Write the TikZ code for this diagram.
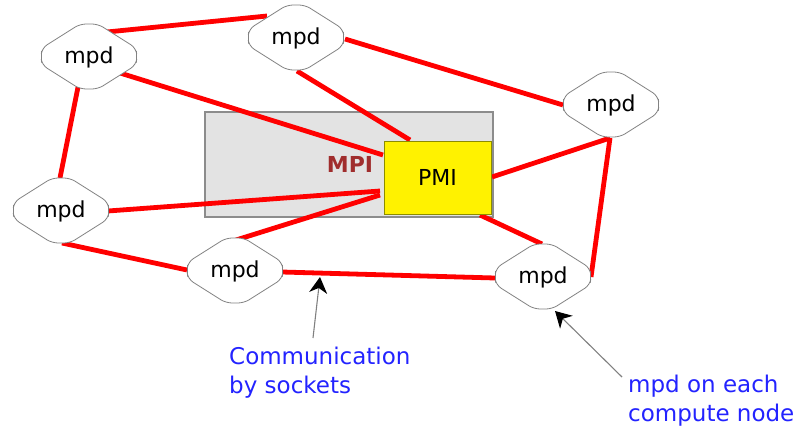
\documentclass[tikz,border=0pt]{standalone}
\usepackage{fontspec}
\setmainfont{DejaVu Sans}
\usetikzlibrary{arrows.meta}
\definecolor{linkred}{RGB}{255,0,0}
\definecolor{boxgray}{RGB}{227,227,227}
\definecolor{boxedge}{RGB}{140,140,140}
\definecolor{pmiedge}{RGB}{140,140,0}
\definecolor{mpired}{RGB}{160,45,45}
\definecolor{noteblue}{RGB}{35,35,255}
\definecolor{blobedge}{RGB}{130,130,130}
\pgfdeclarelayer{background}
\pgfsetlayers{background,main}
\newcommand\blobof[1]{%
  \draw[blobline] ([shift={(-9,-33)}]#1.center) -- ([shift={(9,-33)}]#1.center)
    -- ([shift={(47,-9)}]#1.center) -- ([shift={(48,0)}]#1.center) -- ([shift={(47,8)}]#1.center)
    -- ([shift={(9,32)}]#1.center) -- ([shift={(-9,32)}]#1.center)
    -- ([shift={(-47,8)}]#1.center) -- ([shift={(-48,0)}]#1.center) -- ([shift={(-47,-9)}]#1.center) -- cycle;}
\begin{document}
\begin{tikzpicture}[x=1pt,y=-1pt,
  mpd/.style={minimum width=94pt,minimum height=64pt,inner sep=0pt,
    font=\fontsize{22}{26}\selectfont},
  blobline/.style={draw=blobedge,line width=0.8pt,fill=white,rounded corners=6pt},
  link/.style={draw=linkred,line width=4.8pt},
  mpibox/.style={draw=boxedge,fill=boxgray,line width=1.1pt,minimum width=288pt,
    minimum height=105pt,inner sep=0pt},
  pmibox/.style={draw=pmiedge,fill=yellow,line width=1pt,minimum width=107pt,
    minimum height=73pt,inner sep=0pt,font=\fontsize{22}{26}\selectfont},
  mpilabel/.style={text=mpired,font=\bfseries\fontsize{22}{26}\selectfont,inner sep=0pt},
  notetext/.style={text=noteblue,align=left,inner sep=0pt,anchor=north west,
    font=\fontsize{23}{29}\selectfont},
  pointer/.style={draw=gray,line width=1.1pt,-{Stealth[length=16pt,width=18pt,inset=5pt,color=black]}}]
\useasboundingbox (0,0) rectangle (797,428);
% nodes
\node[mpd] (tl) at (89,57) {mpd};
\node[mpd] (tm) at (296,38) {mpd};
\node[mpd] (r) at (611,105) {mpd};
\node[mpd] (l) at (61,211) {mpd};
\node[mpd] (bm) at (235,271) {mpd};
\node[mpd] (br) at (543,277) {mpd};
\begin{pgfonlayer}{background}
\node[mpibox] (mpi) at (349,164.5) {};
\end{pgfonlayer}
\node[mpilabel] (mpitext) at (350,164) {MPI};
\node[pmibox] (pmi) at (437.5,177.5) {PMI};
\begin{pgfonlayer}{background}
\draw[link] ([shift={(18,-25)}]tl.center) -- ([shift={(-29,-22)}]tm.center);
\draw[link] ([shift={(49,1)}]tm.center) -- ([shift={(-48,0)}]r.center);
\draw[link] ([shift={(31,16)}]tl.center) -- ([shift={(-54.5,-22.5)}]pmi.center);
\draw[link] ([shift={(1,33)}]tm.center) -- ([shift={(-27.5,-37.5)}]pmi.center);
\draw[link] ([shift={(-11,30)}]tl.center) -- ([shift={(-1,-33)}]l.center);
\draw[link] ([shift={(47,0)}]l.center) -- ([shift={(-57.5,13.5)}]pmi.center);
\draw[link] ([shift={(1,-31)}]bm.center) -- ([shift={(-57.5,17.5)}]pmi.center);
\draw[link] ([shift={(1,32)}]l.center) -- ([shift={(-48,-1)}]bm.center);
\draw[link] ([shift={(47,1)}]bm.center) -- ([shift={(-48,1)}]br.center);
\draw[link] ([shift={(54.5,-0.5)}]pmi.center) -- ([shift={(-1,33)}]r.center);
\draw[link] ([shift={(-1,33)}]r.center) -- ([shift={(48,0)}]br.center);
\draw[link] ([shift={(42.5,37.5)}]pmi.center) -- ([shift={(-1,-33)}]br.center);
\foreach \n in {tl,tm,r,l,bm,br} {\blobof{\n}}
\end{pgfonlayer}
% notes
\node[notetext] (sock) at (229,347) {Communication\\by sockets};
\node[notetext] (each) at (628,375) {mpd on each\\compute node};
\coordinate (sockfrom) at (313,338);
\coordinate (sockto) at (320,277);
\coordinate (eachfrom) at (622,377);
\coordinate (eachto) at (555,311);
\draw[pointer] (sockfrom) -- (sockto);
\draw[pointer] (eachfrom) -- (eachto);
\end{tikzpicture}
\end{document}
